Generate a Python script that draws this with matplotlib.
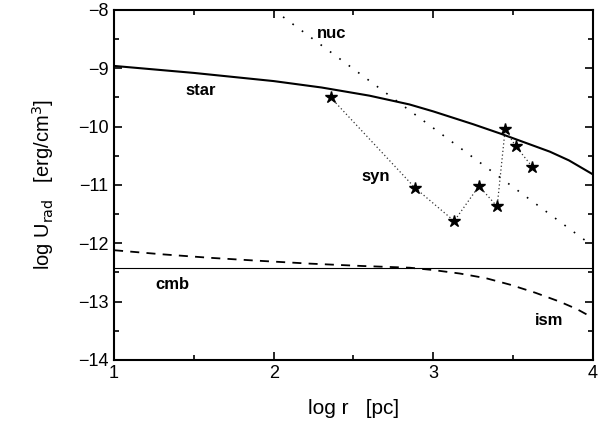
import matplotlib
matplotlib.use("Agg")
import matplotlib.pyplot as plt
from matplotlib.ticker import MultipleLocator

plt.rcParams['font.family'] = ['Liberation Sans', 'DejaVu Sans']

# stellar radiation field
star_x = [1.0, 1.5, 2.0, 2.3, 2.6, 2.85, 3.0, 3.25, 3.42, 3.6, 3.73, 3.85, 4.0]
star_y = [-8.96, -9.08, -9.22, -9.33, -9.47, -9.62, -9.74, -9.96, -10.12, -10.30, -10.43, -10.58, -10.82]

# nuclear source
nuc_x = [2.0, 4.0]
nuc_y = [-8.0, -12.05]

# synchrotron points
syn_x = [2.357, 2.885, 3.131, 3.286, 3.40, 3.45, 3.515, 3.62]
syn_y = [-9.50, -11.05, -11.62, -11.02, -11.37, -10.05, -10.33, -10.69]

# interstellar medium
ism_x = [1.0, 1.3, 1.6, 1.9, 2.227, 2.55, 2.853, 3.0, 3.167, 3.33, 3.48, 3.64, 3.79, 3.9, 4.0]
ism_y = [-12.12, -12.19, -12.25, -12.30, -12.35, -12.39, -12.42, -12.46, -12.52, -12.60, -12.71, -12.85, -13.0, -13.13, -13.28]

cmb_y = -12.43

fig = plt.figure(figsize=(6.1, 4.32), dpi=100)
ax = fig.add_axes([0.187, 0.167, 0.785, 0.81])

ax.plot(star_x, star_y, color='black', lw=1.5)
ax.plot(nuc_x, nuc_y, color='black', lw=1.2, linestyle=(0, (1, 6)))
ax.plot(syn_x, syn_y, color='#333333', lw=0.9, linestyle=(0, (1, 2)),
        marker='*', markersize=9, markerfacecolor='black', markeredgecolor='black')
ax.plot(ism_x, ism_y, color='black', lw=1.3, linestyle=(0, (5, 4)))
ax.axhline(cmb_y, color='black', lw=0.8)

labels = [("nuc", 2.27, -8.4), ("star", 1.45, -9.38), ("syn", 2.55, -10.85),
          ("cmb", 1.26, -12.7), ("ism", 3.635, -13.32)]
for txt, x, y in labels:
    ax.text(x, y, txt, fontsize=12, fontweight='bold', ha='left', va='center')

ax.set_xlim(1, 4)
ax.set_ylim(-14, -8)
ax.xaxis.set_major_locator(MultipleLocator(1))
ax.xaxis.set_minor_locator(MultipleLocator(0.5))
ax.yaxis.set_major_locator(MultipleLocator(1))
ax.yaxis.set_minor_locator(MultipleLocator(0.5))
ax.tick_params(which='both', direction='in', top=True, right=True, width=1.2)
ax.tick_params(which='major', length=6, labelsize=13, pad=4)
ax.tick_params(which='minor', length=3.5)
for s in ax.spines.values():
    s.set_linewidth(1.5)

ax.set_xlabel("log r   [pc]", fontsize=15, labelpad=12)
ax.set_ylabel(r"log U$_{\rm rad}$   [erg/cm$^3$]", fontsize=14.5, labelpad=16)

fig.savefig("out.png", dpi=100)
